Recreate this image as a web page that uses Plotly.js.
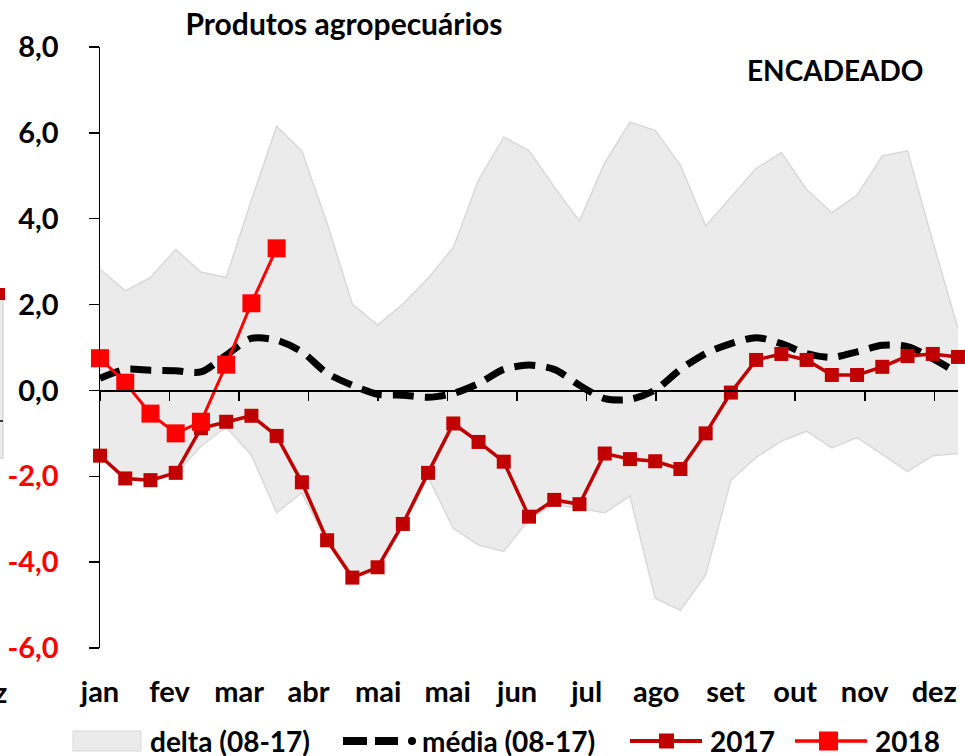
<!DOCTYPE html>
<html>
<head>
<meta charset="utf-8">
<script src="https://cdn.plot.ly/plotly-3.0.1.min.js"></script>
<style>html,body{margin:0;padding:0;background:#fff;}#chart{width:965px;height:756px;}</style>
</head>
<body>
<div id="chart"></div>
<script>
// ---- data ----
const monthLabels = ['jan','fev','mar','abr','mai','mai','jun','jul','ago','set','out','nov','dez'];
const periods = [0,1,2,3,4,5,6,7,8,9,10,11,12,13,14,15,16,17,18,19,20,21,22,23,24,25,26,27,28,29,30,31,32,33,34];
const deltaUpper = [2.82,2.32,2.63,3.28,2.76,2.63,4.43,6.15,5.58,3.89,2.01,1.52,2.01,2.61,3.33,4.90,5.90,5.59,4.74,3.95,5.30,6.25,6.06,5.25,3.83,4.51,5.17,5.54,4.68,4.14,4.55,5.46,5.58,3.47,1.44];
const deltaLower = [-1.55,-2.08,-2.12,-1.95,-1.30,-0.85,-1.51,-2.85,-2.38,-3.55,-4.40,-4.15,-3.15,-2.02,-3.21,-3.60,-3.75,-3.00,-2.65,-2.75,-2.85,-2.46,-4.84,-5.12,-4.30,-2.09,-1.56,-1.18,-0.95,-1.34,-1.10,-1.49,-1.89,-1.52,-1.47];
const media = [0.28,0.49,0.47,0.46,0.43,0.82,1.21,1.17,0.90,0.40,0.12,-0.09,-0.11,-0.16,-0.07,0.16,0.49,0.59,0.49,0.12,-0.19,-0.21,0.01,0.49,0.86,1.09,1.23,1.09,0.86,0.77,0.90,1.05,1.02,0.74,0.40];
const y2017 = [-1.52,-2.05,-2.09,-1.92,-0.88,-0.73,-0.59,-1.06,-2.14,-3.49,-4.36,-4.12,-3.11,-1.92,-0.77,-1.20,-1.66,-2.94,-2.55,-2.65,-1.47,-1.60,-1.65,-1.83,-1.00,-0.05,0.71,0.85,0.71,0.36,0.36,0.55,0.80,0.85,0.78];
const y2018 = [0.75,0.18,-0.54,-1.00,-0.73,0.60,2.03,3.31];
const yTickVals = [-6,-4,-2,0,2,4,6,8];
const seriesNames = ['delta (08-17)', 'média (08-17)', '2017', '2018'];

// ---- layout helpers ----
const monthStep = 2.755; // periods per month label
const monthTicks = monthLabels.map((_, k) => k * monthStep);
const yTickText = yTickVals.map(v => {
  const s = v.toFixed(1).replace('.', ',');
  return v < 0 ? '<span style="color:#FF0000">' + s + '</span>' : s;
});

const FONT = 'Lato, "Open Sans", sans-serif';
const C17 = '#C00000', C18 = '#FF0000', BAND = '#EBEBEB', BANDLINE = '#D9D9D9';

// plot area: left 100px, width 858px, top 47px, height 601px
const PX = px => (px - 100) / 858;
const PY = py => (648 - py) / 601;

const traces = [
  {x: periods, y: deltaLower, type: 'scatter', mode: 'lines',
   line: {color: BANDLINE, width: 1.5}, showlegend: false, hoverinfo: 'skip'},
  {x: periods, y: deltaUpper, type: 'scatter', mode: 'lines', name: seriesNames[0],
   fill: 'tonexty', fillcolor: BAND, line: {color: BANDLINE, width: 1.5}},
  {x: periods, y: media, type: 'scatter', mode: 'lines', name: seriesNames[1],
   line: {color: '#000000', width: 7, dash: '21px,11px', shape: 'spline', smoothing: 0.8}},
  {x: periods, y: y2017, type: 'scatter', mode: 'lines+markers', name: seriesNames[2], cliponaxis: false,
   line: {color: C17, width: 3.5}, marker: {symbol: 'square', size: 14, color: C17}},
  {x: periods.slice(0, y2018.length), y: y2018, type: 'scatter', mode: 'lines+markers', name: seriesNames[3], cliponaxis: false,
   line: {color: C18, width: 3}, marker: {symbol: 'square', size: 18, color: C18}},
  {x: [], y: [], xaxis: 'x2', yaxis: 'y', showlegend: false, hoverinfo: 'skip'}
];

// legend drawn by hand (shapes + text) to match the reference spacing
const LY = 741;
const legendShapes = [
  {type: 'rect', x0: PX(73), x1: PX(141), y0: PY(731), y1: PY(751), fillcolor: BAND, line: {color: BANDLINE, width: 1}},
  {type: 'line', x0: PX(343), x1: PX(367), y0: PY(LY), y1: PY(LY), line: {color: '#000', width: 8}},
  {type: 'line', x0: PX(375), x1: PX(398), y0: PY(LY), y1: PY(LY), line: {color: '#000', width: 8}},
  {type: 'circle', x0: PX(408), x1: PX(416), y0: PY(LY + 4), y1: PY(LY - 4), fillcolor: '#000', line: {width: 0}},
  {type: 'line', x0: PX(630), x1: PX(702), y0: PY(LY), y1: PY(LY), line: {color: C17, width: 4}},
  {type: 'rect', x0: PX(659), x1: PX(674), y0: PY(LY + 7.5), y1: PY(LY - 7.5), fillcolor: C17, line: {width: 0}},
  {type: 'line', x0: PX(795), x1: PX(867), y0: PY(LY), y1: PY(LY), line: {color: C18, width: 3.5}},
  {type: 'rect', x0: PX(819), x1: PX(838), y0: PY(LY + 9.5), y1: PY(LY - 9.5), fillcolor: C18, line: {width: 0}}
].map(s => Object.assign({xref: 'paper', yref: 'paper', layer: 'above'}, s));

const legendTextX = [148, 420, 708, 873];
const legendTexts = seriesNames.map((n, i) => ({
  text: '<b>' + n + '</b>', xref: 'paper', yref: 'paper', x: PX(legendTextX[i]), y: PY(LY),
  xanchor: 'left', yanchor: 'middle', showarrow: false, font: {family: FONT, size: 28, color: '#000'}
}));

const layout = {
  width: 965, height: 756,
  margin: {l: 100, r: 7, t: 47, b: 108, autoexpand: false},
  paper_bgcolor: '#ffffff', plot_bgcolor: '#ffffff',
  showlegend: false,
  font: {family: FONT, color: '#000000'},
  title: {text: 'Produtos agropecuários', x: 0.3565, xanchor: 'center', y: 0.968, yanchor: 'middle',
          font: {family: FONT, size: 30, weight: 'bold', color: '#000'}},
  xaxis: {range: [0, 34], tickmode: 'array', tickvals: monthTicks, ticktext: monthLabels,
          showline: false, showgrid: false, zeroline: false, ticks: '',
          ticklabelstandoff: 24,
          tickfont: {family: FONT, size: 29, weight: 'bold', color: '#000'}},
  xaxis2: {range: [0, 34], overlaying: 'x', anchor: 'free', position: 6/14, side: 'bottom',
           tickmode: 'array', tickvals: monthTicks, showticklabels: false,
           showline: true, linecolor: '#000', linewidth: 1.5,
           ticks: 'outside', ticklen: 9, tickwidth: 1.5, tickcolor: '#000', showgrid: false, zeroline: false},
  yaxis: {range: [-6, 8], tickmode: 'array', tickvals: yTickVals, ticktext: yTickText,
          showline: true, linecolor: '#000', linewidth: 1.5, ticks: 'outside', ticklen: 10, tickwidth: 1.5,
          tickcolor: '#000', showgrid: false, zeroline: false, ticklabelstandoff: 24,
          tickfont: {family: FONT, size: 29, weight: 'bold', color: '#000'}},
  annotations: [
    {text: '<b>ENCADEADO</b>', xref: 'paper', yref: 'paper', x: 0.857, y: 0.962,
     xanchor: 'center', yanchor: 'middle', showarrow: false,
     font: {family: FONT, size: 28, color: '#000'}},
    {text: '<b>dez</b>', xref: 'paper', yref: 'paper', x: PX(0), y: PY(691), xanchor: 'right', yanchor: 'middle',
     xshift: 9, showarrow: false, font: {family: FONT, size: 29, color: '#000'}}
  ].concat(legendTexts),
  shapes: [
    {type: 'rect', xref: 'paper', yref: 'paper', x0: PX(-4), x1: PX(3), y0: PY(458), y1: PY(296),
     fillcolor: BAND, line: {color: BANDLINE, width: 1.5}, layer: 'above'},
    {type: 'line', xref: 'paper', yref: 'paper', x0: PX(-4), x1: PX(3), y0: PY(421), y1: PY(421),
     line: {color: '#000', width: 1.5}},
    {type: 'rect', xref: 'paper', yref: 'paper', x0: PX(-4), x1: PX(5), y0: PY(300), y1: PY(288),
     fillcolor: C17, line: {width: 0}, layer: 'above'}
  ].concat(legendShapes)
};

Plotly.newPlot('chart', traces, layout, {displayModeBar: false, staticPlot: true});
</script>
</body>
</html>
